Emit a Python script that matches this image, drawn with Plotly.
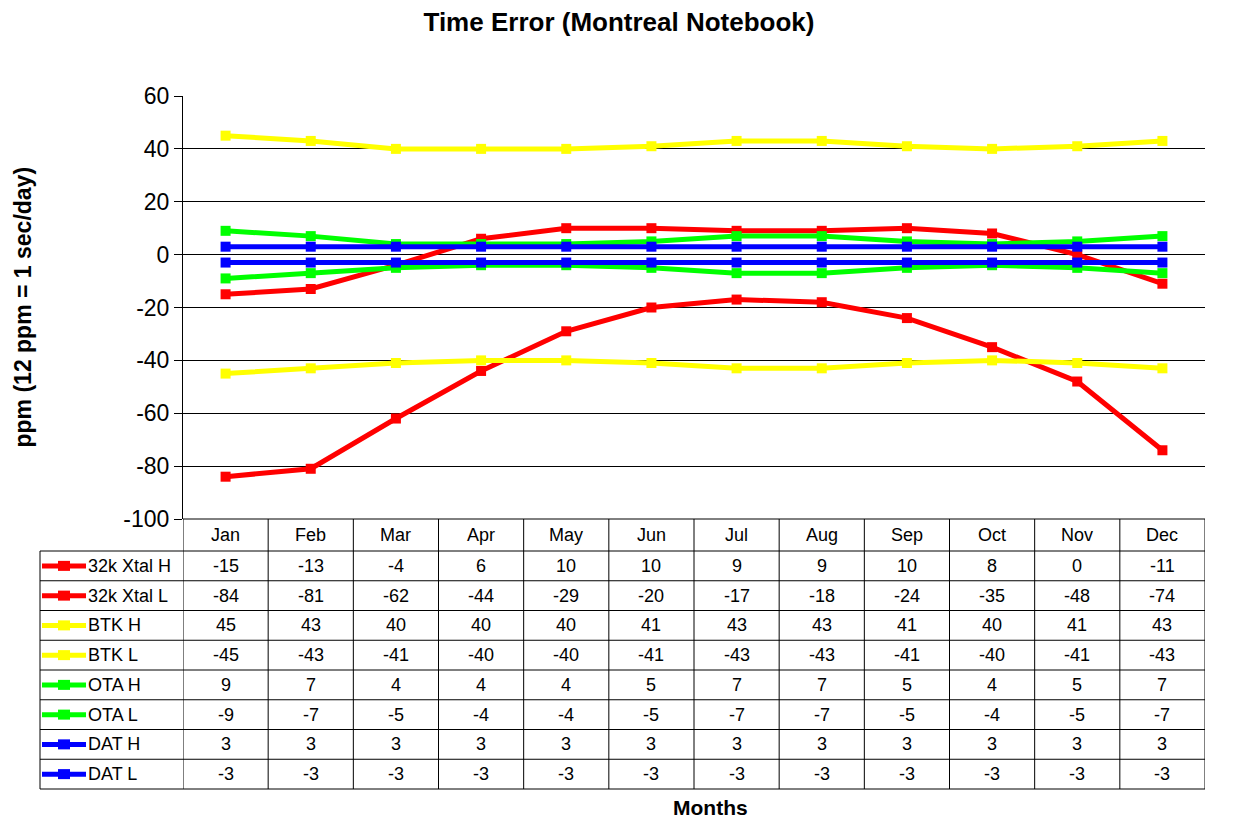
import plotly.graph_objects as go

months = ["Jan", "Feb", "Mar", "Apr", "May", "Jun", "Jul", "Aug", "Sep", "Oct", "Nov", "Dec"]

xtal_h = [-15, -13, -4, 6, 10, 10, 9, 9, 10, 8, 0, -11]
xtal_l = [-84, -81, -62, -44, -29, -20, -17, -18, -24, -35, -48, -74]
btk_h = [45, 43, 40, 40, 40, 41, 43, 43, 41, 40, 41, 43]
btk_l = [-45, -43, -41, -40, -40, -41, -43, -43, -41, -40, -41, -43]
ota_h = [9, 7, 4, 4, 4, 5, 7, 7, 5, 4, 5, 7]
ota_l = [-9, -7, -5, -4, -4, -5, -7, -7, -5, -4, -5, -7]
dat_h = [3, 3, 3, 3, 3, 3, 3, 3, 3, 3, 3, 3]
dat_l = [-3, -3, -3, -3, -3, -3, -3, -3, -3, -3, -3, -3]

series_names = ["32k Xtal H", "32k Xtal L", "BTK H", "BTK L", "OTA H", "OTA L", "DAT H", "DAT L"]
series_values = [xtal_h, xtal_l, btk_h, btk_l, ota_h, ota_l, dat_h, dat_l]
series_colors = ["#FF0000", "#FF0000", "#FFFF00", "#FFFF00", "#00FF00", "#00FF00", "#0000FF", "#0000FF"]

y_ticks = [-100, -80, -60, -40, -20, 0, 20, 40, 60]

W, H = 1237, 818
ML, MR, MT, MB = 183, 32, 96, 299
PW = W - ML - MR
PH = H - MT - MB
FONT = "Liberation Sans, Arial, sans-serif"
TABLE_FS = 18


def px_x(X):
    return (X - ML) / PW


def px_y(Y):
    return (H - MB - Y) / PH


fig = go.Figure()
for name, vals, col in zip(series_names, series_values, series_colors):
    fig.add_trace(go.Scatter(
        x=months, y=vals, mode="lines+markers", name=name,
        line=dict(color=col, width=5),
        marker=dict(symbol="square", size=10, color=col),
        showlegend=False, cliponaxis=False,
    ))

shapes = []
annotations = []

header_top = 519
header_bot = 551
row_h = 29.75
n_rows = len(series_names)
table_bot = header_bot + n_rows * row_h
left_X = 40
line_style = dict(color="black", width=1)

shapes.append(dict(type="line", xref="paper", yref="paper", x0=0, x1=1,
                   y0=px_y(header_top), y1=px_y(header_top), line=line_style, layer="above"))
for k in range(n_rows + 1):
    Y = header_bot + k * row_h
    shapes.append(dict(type="line", xref="paper", yref="paper", x0=px_x(left_X), x1=1,
                       y0=px_y(Y), y1=px_y(Y), line=line_style, layer="above"))
for i in range(len(months) + 1):
    shapes.append(dict(type="line", xref="x", yref="paper", x0=i - 0.5, x1=i - 0.5,
                       y0=px_y(header_top), y1=px_y(table_bot), line=line_style, layer="above"))
shapes.append(dict(type="line", xref="paper", yref="paper", x0=px_x(left_X), x1=px_x(left_X),
                   y0=px_y(header_bot), y1=px_y(table_bot), line=line_style, layer="above"))

for i, m in enumerate(months):
    annotations.append(dict(x=i, xref="x", y=px_y((header_top + header_bot) / 2), yref="paper",
                            text=m, showarrow=False, font=dict(family=FONT, size=TABLE_FS, color="black"),
                            xanchor="center", yanchor="middle"))

for r, (name, vals, col) in enumerate(zip(series_names, series_values, series_colors)):
    cy = header_bot + (r + 0.5) * row_h
    shapes.append(dict(type="line", xref="paper", yref="paper", x0=px_x(42), x1=px_x(86),
                       y0=px_y(cy), y1=px_y(cy), line=dict(color=col, width=5), layer="above"))
    shapes.append(dict(type="rect", xref="paper", yref="paper", x0=px_x(58), x1=px_x(70),
                       y0=px_y(cy + 5), y1=px_y(cy - 5), line=dict(width=0), fillcolor=col, layer="above"))
    annotations.append(dict(x=px_x(86), xref="paper", y=px_y(cy), yref="paper", text=name,
                            showarrow=False, font=dict(family=FONT, size=TABLE_FS, color="black"),
                            xanchor="left", yanchor="middle"))
    for i, v in enumerate(vals):
        annotations.append(dict(x=i, xref="x", y=px_y(cy), yref="paper", text=str(v),
                                showarrow=False, font=dict(family=FONT, size=TABLE_FS, color="black"),
                                xanchor="center", yanchor="middle"))

annotations.append(dict(x=px_x(22), xref="paper", y=0.5, yref="paper",
                        text="<b>ppm (12 ppm = 1 sec/day)</b>", textangle=-90, showarrow=False,
                        font=dict(family=FONT, size=23, color="black"),
                        xanchor="center", yanchor="middle"))
annotations.append(dict(x=px_x(710), xref="paper", y=px_y(807), yref="paper",
                        text="<b>Months</b>", showarrow=False,
                        font=dict(family=FONT, size=21, color="black"),
                        xanchor="center", yanchor="middle"))

fig.update_layout(
    width=W, height=H,
    margin=dict(l=ML, r=MR, t=MT, b=MB, pad=0),
    paper_bgcolor="white", plot_bgcolor="white",
    title=dict(text="<b>Time Error (Montreal Notebook)</b>", x=619 / W, xanchor="center",
               y=1 - 22 / H, yanchor="middle", font=dict(family=FONT, size=26, color="black")),
    xaxis=dict(type="category", categoryorder="array", categoryarray=months,
               range=[-0.5, len(months) - 0.5], showticklabels=False, showgrid=False,
               zeroline=False, showline=False, ticks=""),
    yaxis=dict(range=[-100, 60], tickvals=y_ticks, ticktext=[str(t) for t in y_ticks],
               showgrid=True, gridcolor="black", gridwidth=1,
               zeroline=True, zerolinecolor="black", zerolinewidth=1,
               showline=True, linecolor="black", linewidth=1,
               ticks="outside", ticklen=8, tickcolor="black",
               tickfont=dict(family=FONT, size=23, color="black")),
    shapes=shapes, annotations=annotations,
    font=dict(family=FONT, color="black"),
)

fig.write_html("out.html", config={"displayModeBar": False},
               post_script="document.body.style.margin='0';document.body.style.padding='0';")
